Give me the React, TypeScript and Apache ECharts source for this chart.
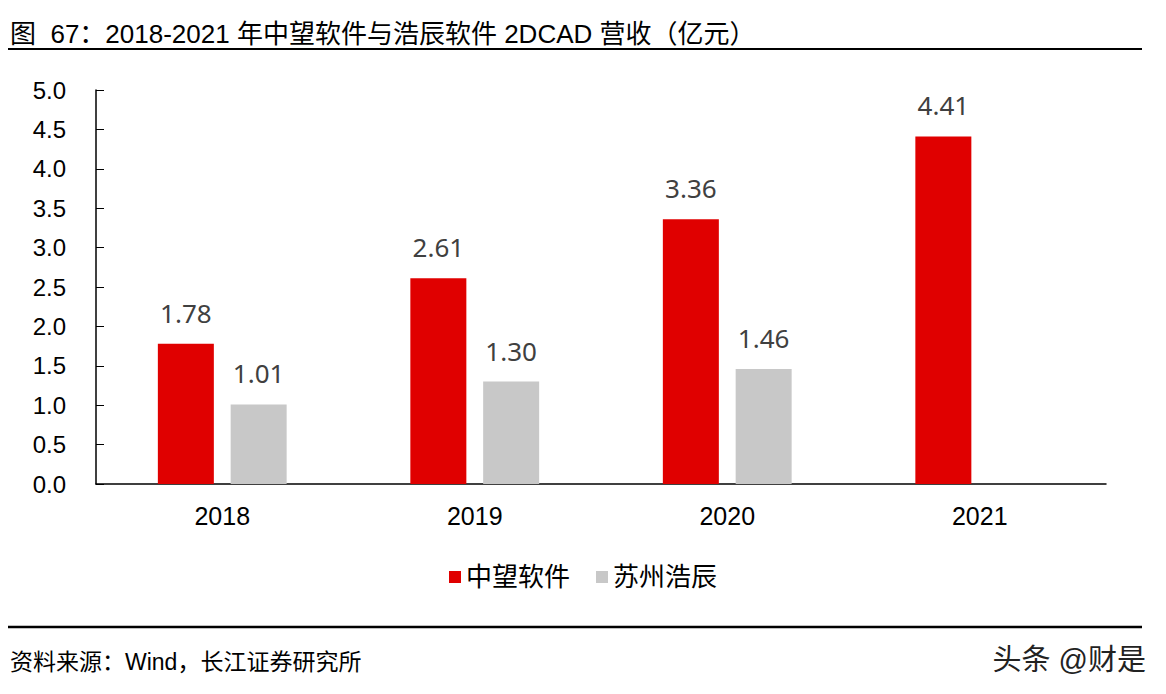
import React, { useEffect, useRef } from "react";
import * as echarts from "echarts";

const categories = ["2018", "2019", "2020", "2021"];
const zwValues = [1.78, 2.61, 3.36, 4.41];
const hcValues: (number | null)[] = [1.01, 1.3, 1.46, null];
const seriesNames = ["中望软件", "苏州浩辰"];

const FONT = "Arial, 'Liberation Sans', 'Noto Sans CJK SC', sans-serif";
const LABEL_FONT = "'Noto Sans', 'Open Sans', sans-serif";

export default function App() {
  const ref = useRef<HTMLDivElement>(null);
  useEffect(() => {
    document.body.style.margin = "0";
    const chart = echarts.init(ref.current!, null, { renderer: "svg" });
    chart.setOption({
      animation: false,
      backgroundColor: "#ffffff",
      textStyle: { fontFamily: FONT },
      grid: { left: 96, right: 60, top: 90, bottom: 210, containLabel: false },
      legend: {
        data: seriesNames,
        bottom: 99,
        left: "center",
        itemWidth: 12,
        itemHeight: 12,
        itemGap: 26,
        icon: "rect",
        textStyle: { fontSize: 26, color: "#000", fontFamily: FONT },
      },
      xAxis: {
        type: "category",
        data: categories,
        axisLine: { show: true, lineStyle: { color: "#000", width: 1.5 } },
        axisTick: { show: false },
        axisLabel: { fontSize: 25, color: "#000", margin: 19, fontFamily: FONT },
      },
      yAxis: {
        type: "value",
        min: 0,
        max: 5,
        interval: 0.5,
        axisLine: { show: true, lineStyle: { color: "#000", width: 1.5 } },
        axisTick: { show: true, inside: true, length: 8, lineStyle: { color: "#000" } },
        splitLine: { show: false },
        axisLabel: {
          fontSize: 24,
          color: "#000",
          margin: 30,
          fontFamily: FONT,
          formatter: (v: number) => v.toFixed(1),
        },
      },
      series: [
        {
          name: seriesNames[0],
          type: "bar",
          data: zwValues,
          barWidth: 56,
          barGap: "30%",
          itemStyle: { color: "#E00000" },
          label: {
            show: true,
            position: "top",
            distance: 18,
            fontSize: 26,
            color: "#404040",
            fontFamily: LABEL_FONT,
            formatter: (p: any) => p.value.toFixed(2),
          },
        },
        {
          name: seriesNames[1],
          type: "bar",
          data: hcValues,
          barWidth: 56,
          itemStyle: { color: "#C8C8C8" },
          label: {
            show: true,
            position: "top",
            distance: 18,
            fontSize: 26,
            color: "#404040",
            fontFamily: LABEL_FONT,
            formatter: (p: any) => (p.value == null ? "" : p.value.toFixed(2)),
          },
        },
      ],
      graphic: [
        {
          type: "text",
          left: 10,
          top: 21,
          style: {
            text: "图  67：2018-2021 年中望软件与浩辰软件 2DCAD 营收（亿元）",
            fontSize: 26,
            fill: "#000",
            fontFamily: FONT,
          },
        },
        {
          type: "line",
          shape: { x1: 8, y1: 49, x2: 1142, y2: 49 },
          style: { stroke: "#000", lineWidth: 2 },
        },
        {
          type: "line",
          shape: { x1: 8, y1: 627, x2: 1142, y2: 627 },
          style: { stroke: "#000", lineWidth: 2.5 },
        },
        {
          type: "text",
          left: 10,
          top: 650,
          style: {
            text: "资料来源：Wind，长江证券研究所",
            fontSize: 23,
            fill: "#000",
            fontFamily: FONT,
          },
        },
        {
          type: "text",
          right: 20,
          top: 645,
          style: {
            text: "头条 @财是",
            fontSize: 29,
            fill: "#222",
            fontFamily: FONT,
          },
        },
      ],
    });
    return () => chart.dispose();
  }, []);
  return <div ref={ref} style={{ width: 1166, height: 694 }} />;
}
